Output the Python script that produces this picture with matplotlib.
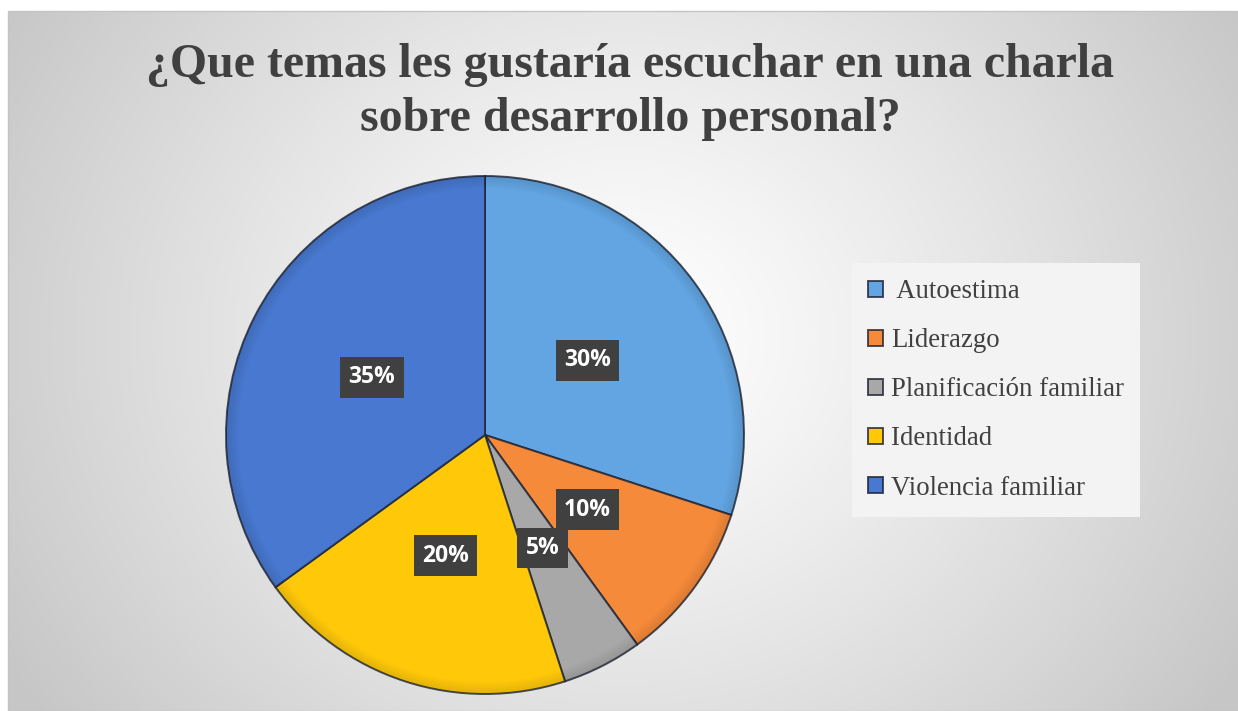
import numpy as np
import matplotlib
matplotlib.use("Agg")
import matplotlib.pyplot as plt
from matplotlib.patches import Rectangle, Wedge

categories = [" Autoestima", "Liderazgo", "Planificación familiar", "Identidad", "Violencia familiar"]
values = [30, 10, 5, 20, 35]
colors = ["#62A5E2", "#F58A3A", "#A8A8A8", "#FFC90A", "#4878CF"]
title = "¿Que temas les gustaría escuchar en una charla\nsobre desarrollo personal?"

W, H = 1238, 711
fig = plt.figure(figsize=(W / 100, H / 100), dpi=100)
fig.patch.set_facecolor("white")

# background gradient panel
bg = fig.add_axes([0, 0, 1, 1])
bg.set_xlim(0, W)
bg.set_ylim(0, H)
bg.axis("off")
yy, xx = np.mgrid[0:H, 0:W]
d = np.sqrt(((xx - 620) / 1.0) ** 2 + ((yy - 330) / 0.9) ** 2)
v = 1.0 - 0.22 * np.clip(d / 720, 0, 1) ** 1.2
img = np.dstack([v, v, v])
bg.imshow(img, extent=(8, W, 0, H - 11), origin="upper", zorder=0, aspect="auto")
bg.add_patch(Rectangle((8, 0), W, H - 11, fill=False, ec="#c4c4c4", lw=1.0, zorder=1))

# pie in pixel-like coordinates
ax = fig.add_axes([0, 0, 1, 1])
ax.patch.set_alpha(0)
cx, cy, r = 485, H - 435, 259
wedges, texts, autotexts = ax.pie(
    values, colors=colors, startangle=90, counterclock=False,
    center=(cx, cy), radius=r, autopct="%1.0f%%", pctdistance=0.49,
    wedgeprops=dict(edgecolor=(0.12, 0.14, 0.2, 0.8), linewidth=1.4),
    textprops=dict(color="white", fontsize=16.5, fontweight="bold", family="Open Sans"),
)
# subtle darker rim to hint at the bevel
for k in range(6):
    ax.add_patch(Wedge((cx, cy), r - 2 * k, 0, 360, width=2, fc="black",
                       ec="none", alpha=0.035 * (6 - k) / 2, zorder=1.5))
for t in autotexts:
    t.set_bbox(dict(boxstyle="square,pad=0.36", fc="#404040", ec="none"))
    t.set_zorder(3)
ax.set_xlim(0, W)
ax.set_ylim(0, H)
ax.set_aspect("equal")
ax.axis("off")

fig.text(0.5 * (145 + 1115) / W, 1 - 92 / H, title, ha="center", va="center",
         fontsize=34.5, fontweight="bold", family="Liberation Serif", color="#404040",
         linespacing=1.27)

leg = fig.legend(wedges, categories, loc="upper left",
                 bbox_to_anchor=(852 / W, 1 - 263 / H),
                 prop=dict(family="Liberation Serif", size=19.3),
                 frameon=True, fancybox=False, facecolor="#f3f3f3", edgecolor="none",
                 framealpha=1.0, handlelength=0.55, handleheight=0.55,
                 handletextpad=0.3, labelspacing=0.9, borderpad=0.6, borderaxespad=0)
for t in leg.get_texts():
    t.set_color("#404040")

fig.savefig("out.png", dpi=100)
